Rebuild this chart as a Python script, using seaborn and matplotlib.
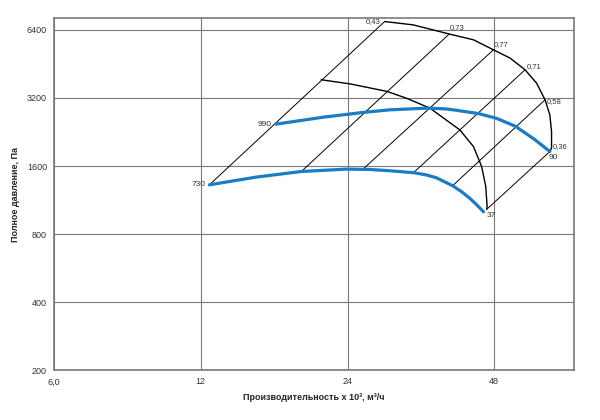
import numpy as np
import pandas as pd
import matplotlib
matplotlib.use("Agg")
import matplotlib.pyplot as plt
import seaborn as sns

# Fan curves (Q in 10^3 m3/h, P in Pa)
q_730 = [12.5, 15.6, 19.3, 23.9, 26.7, 29.3, 32.8, 34.9, 36.5, 39.4, 41.1, 42.8, 44.2, 45.6]
p_730 = [1322, 1430, 1514, 1551, 1545, 1525, 1495, 1460, 1420, 1310, 1234, 1150, 1077, 1005]

q_990 = [17.1, 21.4, 25.8, 29.3, 35.1, 38.3, 40.2, 44.5, 48.5, 53.0, 58.0, 62.4]
p_990 = [2450, 2630, 2760, 2835, 2885, 2860, 2820, 2730, 2600, 2400, 2100, 1855]

# outer boundary curve
q_outer = [28.6, 32.7, 38.8, 43.5, 47.8, 51.7, 55.5, 58.6, 61.0, 62.4, 62.9, 62.9, 62.4]
p_outer = [6960, 6730, 6130, 5780, 5220, 4800, 4260, 3720, 3140, 2690, 2270, 1920, 1855]

# inner boundary curve
q_inner = [21.2, 24.3, 28.9, 31.7, 35.4, 40.8, 43.5, 45.2, 46.1, 46.4, 46.3]
p_inner = [3850, 3690, 3420, 3190, 2885, 2310, 1950, 1595, 1300, 1060, 1030]

# system lines (efficiency), bottom point -> top point
eff_labels = ["0,43", "0,73", "0,77", "0,71", "0,58", "0,36"]
q_bottom = [12.5, 19.3, 25.9, 32.8, 39.4, 46.3]
p_bottom = [1322, 1514, 1560, 1498, 1308, 1030]
q_top = [28.6, 38.8, 47.8, 55.5, 61.0, 62.4]
p_top = [6960, 6130, 5220, 4260, 3140, 1855]

x_ticks = [6, 12, 24, 48]
x_tick_labels = ["6,0", "12", "24", "48"]
y_ticks = [200, 400, 800, 1600, 3200, 6400]
y_tick_labels = ["200", "400", "800", "1600", "3200", "6400"]

sns.set_style("white")
plt.rcParams['font.family'] = ['Liberation Sans', 'DejaVu Sans']

fig = plt.figure(figsize=(6, 4.2), dpi=100)
ax = fig.add_axes([0.09, 0.118, 0.867, 0.838])

blue = "#1a7cc4"

# efficiency lines
for i in range(len(eff_labels)):
    seg = pd.DataFrame({"q": [q_bottom[i], q_top[i]], "p": [p_bottom[i], p_top[i]]})
    sns.lineplot(data=seg, x="q", y="p", ax=ax, color="black", lw=0.7,
                 sort=False, estimator=None)

# boundary curves
sns.lineplot(x=q_outer, y=p_outer, ax=ax, color="black", lw=1.0, sort=False, estimator=None)
sns.lineplot(x=q_inner, y=p_inner, ax=ax, color="black", lw=1.0, sort=False, estimator=None)

# rpm curves
sns.lineplot(x=q_730, y=p_730, ax=ax, color=blue, lw=2.3, sort=False, estimator=None)
sns.lineplot(x=q_990, y=p_990, ax=ax, color=blue, lw=2.3, sort=False, estimator=None)

ax.set_xscale("log")
ax.set_yscale("log")
ax.set_xlim(6, 70)
ax.set_ylim(200, 7180)
ax.set_xticks(x_ticks)
ax.set_xticklabels(x_tick_labels)
ax.set_yticks(y_ticks)
ax.set_yticklabels(y_tick_labels)
ax.minorticks_off()
ax.tick_params(labelsize=6.5, colors="#333333", length=3, width=0.8, pad=2)

ax.grid(True, color="#7a7a7a", lw=0.8)
for s in ax.spines.values():
    s.set_color("#7a7a7a")
    s.set_linewidth(1.2)

ax.set_xlabel("Производительность х 10³, м³/ч", fontsize=6.5, fontweight="bold", labelpad=5)
ax.set_ylabel("Полное давление, Па", fontsize=6.5, fontweight="bold", labelpad=5)

small = dict(fontsize=5.5, color="#333333")
ax.annotate("730", (q_730[0], p_730[0]), xytext=(-3, 0), textcoords="offset points",
            ha="right", va="center", fontsize=6, color="#333333")
ax.annotate("990", (q_990[0], p_990[0]), xytext=(-3, 0), textcoords="offset points",
            ha="right", va="center", fontsize=6, color="#333333")

offsets = [(-3, 0, "right", "center"), (0, 2, "left", "bottom"), (0, 1, "left", "bottom"),
           (1, 0, "left", "bottom"), (1, -1, "left", "center"), (2, 1, "left", "bottom")]
for lab, q, p, (dx, dy, ha, va) in zip(eff_labels, q_top, p_top, offsets):
    ax.annotate(lab, (q, p), xytext=(dx, dy), textcoords="offset points",
                ha=ha, va=va, **small)

ax.annotate("90", (q_990[-1], p_990[-1]), xytext=(-1, -2), textcoords="offset points",
            ha="left", va="top", fontsize=6, color="#333333")
ax.annotate("37", (q_inner[-1], p_inner[-1]), xytext=(0, -2), textcoords="offset points",
            ha="left", va="top", fontsize=6, color="#333333")

fig.savefig("out.png", dpi=100)
